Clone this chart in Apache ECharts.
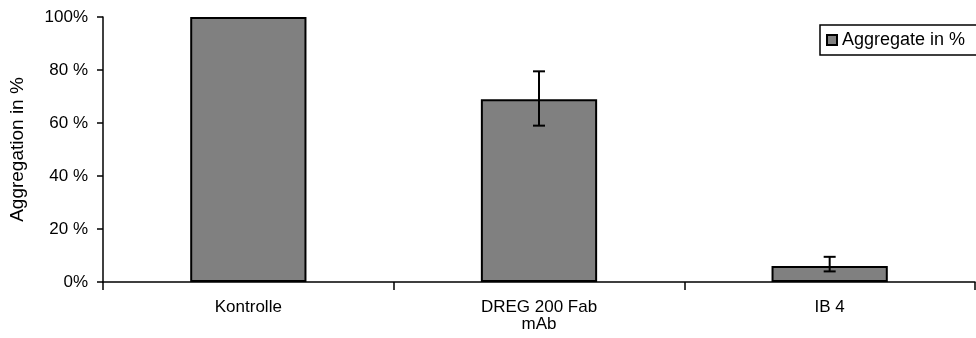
<!DOCTYPE html>
<html><head><meta charset="utf-8">
<script src="https://cdn.jsdelivr.net/npm/echarts@6/dist/echarts.min.js"></script>
<style>html,body{margin:0;padding:0;background:#fff}#c{width:976px;height:338px}</style>
</head><body><div id="c"></div>
<script>
var categories = ['Kontrolle', 'DREG 200 Fab\nmAb', 'IB 4'];
var values = [100, 69, 6];
var errLow = [null, 59, 4];
var errHigh = [null, 79.5, 9.5];
var yTicks = ['0%', '20 %', '40 %', '60 %', '80 %', '100%'];
var seriesName = 'Aggregate in %';

var chart = echarts.init(document.getElementById('c'));
var font = 'Liberation Sans, Arial, sans-serif';
var errData = categories.map(function (c, i) { return [i, errLow[i], errHigh[i]]; }).filter(function (d) { return d[1] != null; });
chart.setOption({
  animation: false,
  grid: { left: 102, right: 1, top: 17, bottom: 56 },
  legend: {
    left: 820, top: 25, orient: 'vertical',
    data: [{ name: seriesName, icon: 'rect' }],
    itemWidth: 10, itemHeight: 10, itemGap: 4,
    padding: [6, 30, 6, 6],
    borderColor: '#000', borderWidth: 1.5,
    textStyle: { fontFamily: font, fontSize: 18, color: '#000' }
  },
  xAxis: {
    type: 'category', data: categories,
    axisLine: { lineStyle: { color: '#000', width: 1.5 } },
    axisTick: { show: true, length: 8, lineStyle: { color: '#000', width: 1.5 } },
    axisLabel: { fontFamily: font, fontSize: 17, color: '#000', margin: 17, lineHeight: 17 }
  },
  yAxis: {
    type: 'value', min: 0, max: 100, interval: 20,
    name: 'Aggregation in %', nameLocation: 'middle', nameGap: 76, nameRotate: 90,
    nameTextStyle: { fontFamily: font, fontSize: 19, color: '#000' },
    splitLine: { show: false },
    axisLine: { show: true, lineStyle: { color: '#000', width: 1.5 } },
    axisTick: { show: true, length: 6, lineStyle: { color: '#000', width: 1.5 } },
    axisLabel: { fontFamily: font, fontSize: 17, color: '#000', margin: 15,
      formatter: function (v) { return yTicks[Math.round(v / 20)]; } }
  },
  series: [{
    name: seriesName, type: 'bar', data: values, barWidth: '40%',
    itemStyle: { color: '#808080', borderColor: '#000', borderWidth: 2 }
  }, {
    type: 'custom', data: errData, z: 10,
    renderItem: function (params, api) {
      var x = api.value(0);
      var lo = api.coord([x, api.value(1)]);
      var hi = api.coord([x, api.value(2)]);
      var hw = 6;
      return { type: 'group', children: [
        { type: 'line', shape: { x1: lo[0], y1: lo[1], x2: hi[0], y2: hi[1] }, style: { stroke: '#000', lineWidth: 2 } },
        { type: 'line', shape: { x1: lo[0] - hw, y1: lo[1], x2: lo[0] + hw, y2: lo[1] }, style: { stroke: '#000', lineWidth: 2 } },
        { type: 'line', shape: { x1: hi[0] - hw, y1: hi[1], x2: hi[0] + hw, y2: hi[1] }, style: { stroke: '#000', lineWidth: 2 } }
      ] };
    }
  }]
});
</script></body></html>
